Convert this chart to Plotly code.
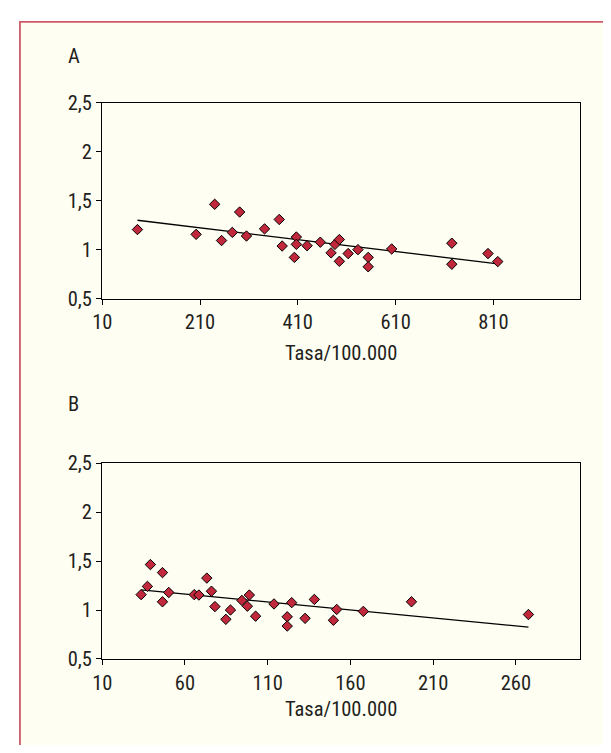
import plotly.graph_objects as go

# ---------------- data ----------------
a_x = [82, 202, 240, 254, 276, 291, 305, 342, 372, 378, 403, 407, 407, 429,
       456, 478, 486, 495, 495, 513, 533, 554, 554, 602, 725, 725, 799, 819]
a_y = [1.205, 1.156, 1.463, 1.093, 1.176, 1.384, 1.139, 1.212, 1.308, 1.037,
       0.921, 1.129, 1.054, 1.040, 1.076, 0.967, 1.054, 1.103, 0.881, 0.960,
       1.000, 0.921, 0.825, 1.007, 1.066, 0.851, 0.960, 0.878]
a_trend_y = [1.300, 0.855]   # trend line value at min(a_x) and max(a_x)

b_x = [33.5, 37.3, 39.1, 46.4, 46.4, 50.2, 65.6, 68.4, 73.2, 76.0, 78.1, 84.7,
       87.5, 94.4, 97.7, 98.9, 102.7, 113.8, 121.8, 121.8, 124.5, 132.6, 138.2,
       149.7, 151.7, 167.8, 196.9, 267.6]
b_y = [1.157, 1.241, 1.464, 1.382, 1.084, 1.179, 1.157, 1.153, 1.326, 1.192,
       1.035, 0.905, 1.000, 1.098, 1.039, 1.153, 0.937, 1.062, 0.931, 0.836,
       1.075, 0.915, 1.108, 0.895, 1.006, 0.986, 1.084, 0.954]
b_trend_y = [1.206, 0.826]   # trend line value at min(b_x) and max(b_x)

panel_labels = ["A", "B"]
x_title = "Tasa/100.000"

# the page body has an 8px margin; keep the figure inside the 611x753 window
OFF = 8
W, H = 611 - 2 * OFF, 753 - 2 * OFF
FONT = "Roboto Condensed, Roboto, sans-serif"
FS = 20.5
TXT = "#231f20"
MK = "#c1283b"
BG = "#fefef2"


def px(x):
    return (x - OFF) / W


def py(y):
    return 1 - (y - OFF) / H


fig = go.Figure()


def add_panel(xs, ys, ty, xa, ya):
    fig.add_trace(go.Scatter(
        x=[min(xs), max(xs)], y=ty, mode="lines", xaxis=xa, yaxis=ya,
        line=dict(color="black", width=1.3), showlegend=False,
        hoverinfo="skip"))
    fig.add_trace(go.Scatter(
        x=xs, y=ys, mode="markers", xaxis=xa, yaxis=ya,
        marker=dict(symbol="diamond", size=8, color=MK,
                    line=dict(color="black", width=1)),
        showlegend=False, hoverinfo="skip"))


add_panel(a_x, a_y, a_trend_y, "x", "y")
add_panel(b_x, b_y, b_trend_y, "x2", "y2")

axis_common = dict(showline=True, linecolor="black", linewidth=1.4,
                   mirror=True, ticks="outside", tickcolor="black",
                   ticklen=5, tickwidth=1.2, showgrid=False, zeroline=False,
                   tickfont=dict(family=FONT, size=FS, color=TXT))

xdom = [px(93.7), px(580)]
fig.update_layout(
    width=W, height=H,
    margin=dict(l=0, r=0, t=0, b=0),
    paper_bgcolor="white", plot_bgcolor=BG,
    separators=",.",
    xaxis=dict(domain=xdom, range=[10, 988], tick0=10, dtick=200,
               anchor="y", **axis_common),
    yaxis=dict(domain=[py(296), py(93.5)], range=[0.5, 2.5], dtick=0.5,
               anchor="x", **axis_common),
    xaxis2=dict(domain=xdom, range=[10, 299], tick0=10, dtick=50,
                anchor="y2", **axis_common),
    yaxis2=dict(domain=[py(668.5), py(466)], range=[0.5, 2.5], dtick=0.5,
                anchor="x2", **axis_common),
    shapes=[dict(type="rect", xref="paper", yref="paper",
                 x0=px(10), x1=1.05, y0=-0.1, y1=py(10),
                 fillcolor=BG, line=dict(color="#d05a6a", width=1.8),
                 layer="below")],
    annotations=[
        dict(text=panel_labels[0], x=px(57), y=py(45), xref="paper",
             yref="paper", xanchor="left", yanchor="middle", showarrow=False,
             font=dict(family=FONT, size=FS, color=TXT)),
        dict(text=panel_labels[1], x=px(57), y=py(405), xref="paper",
             yref="paper", xanchor="left", yanchor="middle", showarrow=False,
             font=dict(family=FONT, size=FS, color=TXT)),
        dict(text=x_title, x=px(337), y=py(352), xref="paper",
             yref="paper", xanchor="center", yanchor="middle",
             showarrow=False, font=dict(family=FONT, size=FS, color=TXT)),
        dict(text=x_title, x=px(337), y=py(720), xref="paper",
             yref="paper", xanchor="center", yanchor="middle",
             showarrow=False, font=dict(family=FONT, size=FS, color=TXT)),
    ],
)

fig.write_html("out.html")
